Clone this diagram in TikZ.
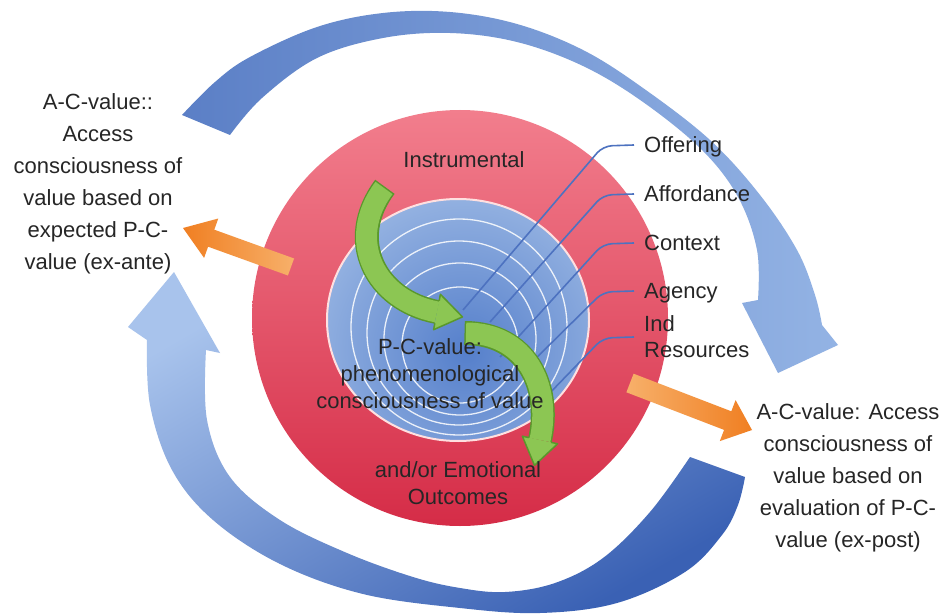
\documentclass[tikz,border=0pt]{standalone}
\usepackage{fontspec}
\setmainfont{Liberation Sans}
\usetikzlibrary{calc}

\definecolor{txt}{HTML}{262626}
\definecolor{redT}{HTML}{F27E8D}
\definecolor{redB}{HTML}{D52C47}
\definecolor{blueEdge}{HTML}{B3CBEC}
\definecolor{blueCore}{HTML}{557FCB}
\definecolor{wire}{HTML}{4D72C0}
\definecolor{gfill}{HTML}{8CC653}
\definecolor{gedge}{HTML}{5A982C}
\definecolor{orDark}{HTML}{F07F22}
\definecolor{orLight}{HTML}{F7B06A}
\definecolor{arcTopL}{HTML}{5B7FC6}
\definecolor{arcTopR}{HTML}{93B3E4}
\definecolor{arcBotL}{HTML}{A8C3EC}
\definecolor{arcBotD}{HTML}{3A61B4}

\begin{document}
\begin{tikzpicture}[x=1pt,y=-1pt,
  lbl/.style={font=\fontsize{22}{27}\selectfont, text=txt, inner sep=0pt},
  side/.style={font=\fontsize{22}{32}\selectfont, text=txt, inner sep=0pt, align=center},
  tag/.style={lbl, anchor=west, text height=15.8pt, text depth=0pt},
  ring/.style={draw=white, line width=1.3pt, opacity=0.85},
  wireline/.style={draw=wire, line width=1.6pt, rounded corners=9pt},
  gedgeline/.style={draw=gedge, line width=24pt},
  gfillline/.style={draw=gfill, line width=21pt},
  ghead/.style={fill=gfill, draw=gedge, line width=1.5pt, line join=round}]

\useasboundingbox (0,0) rectangle (948,615);
\fill[white] (0,0) rectangle (948,615);

% upper sweeping arrow (ex-ante to ex-post)
\shade[left color=arcTopL, right color=arcTopR]
  plot[smooth, tension=0.6] coordinates {(182,115) (215,82) (250,57) (317,27) (383,13) (450,12) (517,24) (583,50) (643,88) (710,140) (760,195) (797,250) (815,295) (822,325)}
  -- (838,345) -- (778,373) -- (742,303)
  -- plot[smooth, tension=0.6] coordinates {(758,300) (757,250) (738,197) (702,150) (643,102) (583,66) (517,42) (450,33) (383,38) (317,58) (262,98) (230,135)}
  -- cycle;

% lower sweeping arrow (ex-post back to ex-ante)
\shade[top color=arcBotL, bottom color=arcBotD, shading angle=30]
  plot[smooth, tension=0.6] coordinates {(745,477) (738,505) (722,535) (685,572) (617,603) (540,613) (460,608) (363,594) (280,564) (213,520) (172,470) (150,405) (147,340)}
  -- (128,327) -- (174,272) -- (220,353)
  -- plot[smooth, tension=0.6] coordinates {(206,350) (207,420) (230,477) (280,520) (347,553) (413,577) (460,588) (505,592) (555,583) (603,558) (650,512) (690,457)}
  -- cycle;

% outcome disk
\shade[top color=redT, bottom color=redB] (460,318) circle (208);

% phenomenological core
\begin{scope}
  \clip (458,320) ellipse [x radius=131, y radius=121];
  \shade[inner color=blueCore, outer color=blueEdge] (466,352) circle (235);
\end{scope}
\draw[ring] (460,345) circle (58);
\draw[ring] (460,339) circle (76);
\draw[ring] (459,333) circle (92);
\draw[ring] (459,327) circle (108);
\draw[white!88!red, line width=2pt] (458,320) ellipse [x radius=131, y radius=121];

% orange outflow arrows
\shade[left color=orDark, right color=orLight]
  (294.1,258.5) -- (214.3,229.7) -- (218.3,218.5) -- (183,228) -- (204.1,257.9) -- (208.1,246.7) -- (287.9,275.5) -- cycle;
\shade[left color=orLight, right color=orDark]
  (633.6,373.7) -- (731.3,411.3) -- (735.6,400.1) -- (752,430) -- (719.8,441.1) -- (724.1,429.9) -- (626.4,392.3) -- cycle;

% labels
\node[tag] (off) at (644,145) {Offering};
\node[tag] (aff) at (644,194) {Affordance};
\node[tag] (ctx) at (644,243) {Context};
\node[tag] (agy) at (644,291) {Agency};
\node[lbl, anchor=west, align=left, font=\fontsize{22}{26}\selectfont] (ind) at (644,337) {Ind\\Resources};

% leader lines into the core
\coordinate (w1) at (463,310);
\coordinate (w2) at (490,322);
\coordinate (w3) at (500,357);
\coordinate (w4) at (522,372);
\coordinate (w5) at (545,398);
\draw[wireline] (w1) -- (603,146) -- ([xshift=-10pt]off.west);
\draw[wireline] (w2) -- (603,195) -- ([xshift=-10pt]aff.west);
\draw[wireline] (w3) -- (603,244) -- ([xshift=-10pt]ctx.west);
\draw[wireline] (w4) -- (603,292) -- ([xshift=-10pt]agy.west);
\draw[wireline] (w5) -- (603,338) -- ([xshift=-10pt]ind.west);

% green S-shaped arrows
\draw[gedgeline, shorten <=-1.5pt] (384,188) .. controls (345,240) and (375,300) .. (437,312);
\draw[gfillline] (384,188) .. controls (345,240) and (375,300) .. (437,312);
\filldraw[ghead] (434.8,323.3) -- (433.6,329.7) -- (462.5,316.9) -- (440.4,294.3) -- (439.2,300.7);

\draw[gedgeline, shorten <=-1.5pt] (466,333) .. controls (525,333) and (552,385) .. (540,440);
\draw[gfillline] (466,333) .. controls (525,333) and (552,385) .. (540,440);
\filldraw[ghead] (551.2,442.4) -- (557.6,443.8) -- (534.5,465.4) -- (522.4,436.2) -- (528.8,437.6);

% texts
\node[lbl, text height=15.8pt, text depth=0pt] (instr) at (464,160) {Instrumental};
\node[lbl, align=center] (pcv) at (430,374) {P-C-value:\\phenomenological\\consciousness of value};
\node[lbl, align=center] (emo) at (458,483) {and/or Emotional\\Outcomes};

\node[side] (ante) at (98,184) {A-C-value::\\Access\\consciousness of\\value based on\\expected P-C-\\value (ex-ante)};
\node[side] (post) at (848,478) {A-C-value: Access\\consciousness of\\value based on\\evaluation of P-C-\\value (ex-post)};
\end{tikzpicture}
\end{document}
